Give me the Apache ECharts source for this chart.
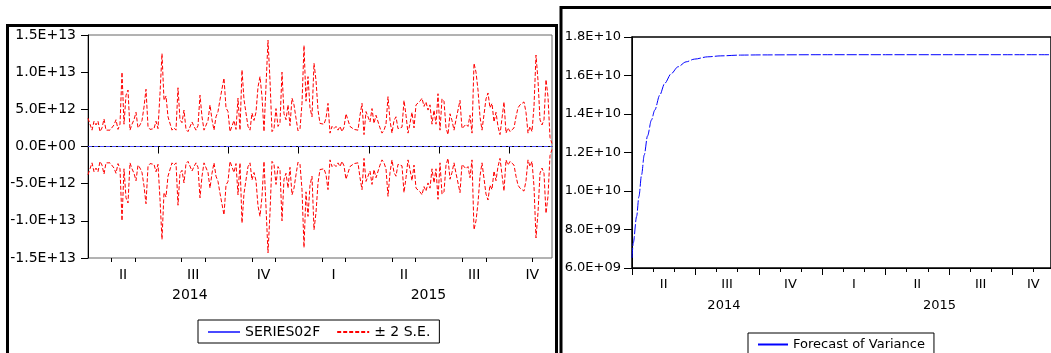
<!DOCTYPE html>
<html>
<head>
<meta charset="utf-8">
<script src="https://cdn.jsdelivr.net/npm/echarts@6.0.0/dist/echarts.min.js"></script>
<style>
  html, body { margin: 0; padding: 0; background: #fff; }
  #chart { width: 1051px; height: 353px; }
</style>
</head>
<body>
<div id="chart"></div>
<script>
// x is measured in quarters from 2014 Q2 (0 = start of April 2014)
const tEnd = 6.61;
const quarterTicks = [0, 1, 2, 3, 4, 5, 6];
const monthTicks = [0.333, 0.667, 1.333, 1.667, 2.333, 2.667, 3.333, 3.667, 4.333, 4.667, 5.333, 5.667, 6.333];
const quarterLabelPos = [0.5, 1.5, 2.5, 3.5, 4.5, 5.5, 6.33];
const quarterLabels = ["II", "III", "IV", "I", "II", "III", "IV"];
const yearLabelPos = [1.45, 4.85];
const yearLabels = ["2014", "2015"];

// left panel: forecast and +/- 2 S.E. bands, values in units of 1E+12
const forecastT = [0, 6.61];
const forecastV = [0, 0];
const upperBand = [
  3.8,3.0,2.2,3.4,2.9,3.4,2.0,2.5,3.7,2.2,2.0,2.2,2.2,2.9,3.6,2.3,3.0,10.0,3.0,6.9,7.6,2.2,3.0,3.6,4.6,2.5,2.9,3.5,5.3,7.7,2.7,2.3,2.2,2.4,3.4,2.4,7.1,12.5,6.2,
  6.8,4.0,4.2,2.2,2.5,2.2,7.9,3.6,3.2,4.9,2.3,2.0,2.0,3.3,2.7,2.2,2.8,6.9,4.0,2.2,2.2,3.5,5.6,3.6,2.2,4.0,4.7,6.3,6.2,9.2,5.2,4.7,2.0,2.0,3.5,2.3,6.5,2.2,10.3,
  6.3,6.5,2.7,2.2,4.5,3.5,4.6,8.0,9.4,6.7,2.0,2.2,14.3,8.9,2.0,2.4,5.1,2.7,3.2,10.0,4.4,3.6,5.6,2.8,6.5,5.6,3.8,2.1,2.4,5.8,13.6,6.1,9.4,5.2,4.0,11.2,8.9,4.9,3.1,
  3.3,3.0,3.8,5.8,1.8,2.7,2.4,2.7,2.2,2.7,2.0,2.6,4.4,4.2,2.7,2.7,2.3,2.4,2.2,4.2,5.8,1.6,4.7,4.6,3.3,5.1,3.1,4.2,4.4,2.5,1.8,2.2,3.0,6.7,3.5,1.8,3.5,4.0,2.4,
  2.4,2.6,6.2,4.2,1.8,3.1,4.6,2.5,5.6,5.4,6.1,6.5,5.4,6.0,4.9,5.6,3.0,4.9,3.0,7.1,2.2,6.4,6.1,2.5,1.6,4.4,3.5,2.2,3.6,3.8,6.2,2.4,2.6,3.0,2.7,4.2,1.8,11.2,10.0,
  7.6,4.0,2.2,2.2,6.4,7.2,5.2,5.8,3.3,4.6,2.7,1.6,1.4,6.0,1.8,2.5,2.0,2.2,2.5,4.0,5.2,5.6,5.8,6.0,4.6,1.8,2.7,2.0,5.4,12.3,8.9,3.6,2.9,3.6,9.0,6.7,1.2,0.4
];
const lowerBand = [
  -3.8,-3.0,-2.2,-3.4,-2.9,-3.4,-2.0,-2.5,-3.7,-2.2,-2.0,-2.2,-2.2,-2.9,-3.6,-2.3,-3.0,-10.0,-3.0,-6.9,-7.6,-2.2,-3.0,-3.6,-4.6,-2.5,-2.9,-3.5,-5.3,-7.7,-2.7,-2.3,-2.2,-2.4,-3.4,-2.4,-7.1,-12.5,-6.2,
  -6.8,-4.0,-4.2,-2.2,-2.5,-2.2,-7.9,-3.6,-3.2,-4.9,-2.3,-2.0,-2.0,-3.3,-2.7,-2.2,-2.8,-6.9,-4.0,-2.2,-2.2,-3.5,-5.6,-3.6,-2.2,-4.0,-4.7,-6.3,-6.2,-9.2,-5.2,-4.7,-2.0,-2.0,-3.5,-2.3,-6.5,-2.2,-10.3,
  -6.3,-6.5,-2.7,-2.2,-4.5,-3.5,-4.6,-8.0,-9.4,-6.7,-2.0,-2.2,-14.3,-8.9,-2.0,-2.4,-5.1,-2.7,-3.2,-10.0,-4.4,-3.6,-5.6,-2.8,-6.5,-5.6,-3.8,-2.1,-2.4,-5.8,-13.6,-6.1,-9.4,-5.2,-4.0,-11.2,-8.9,-4.9,-3.1,
  -3.3,-3.0,-3.8,-5.8,-1.8,-2.7,-2.4,-2.7,-2.2,-2.7,-2.0,-2.6,-4.4,-4.2,-2.7,-2.7,-2.3,-2.4,-2.2,-4.2,-5.8,-1.6,-4.7,-4.6,-3.3,-5.1,-3.1,-4.2,-4.4,-2.5,-1.8,-2.2,-3.0,-6.7,-3.5,-1.8,-3.5,-4.0,-2.4,
  -2.4,-2.6,-6.2,-4.2,-1.8,-3.1,-4.6,-2.5,-5.6,-5.4,-6.1,-6.5,-5.4,-6.0,-4.9,-5.6,-3.0,-4.9,-3.0,-7.1,-2.2,-6.4,-6.1,-2.5,-1.6,-4.4,-3.5,-2.2,-3.6,-3.8,-6.2,-2.4,-2.6,-3.0,-2.7,-4.2,-1.8,-11.2,-10.0,
  -7.6,-4.0,-2.2,-2.2,-6.4,-7.2,-5.2,-5.8,-3.3,-4.6,-2.7,-1.6,-1.4,-6.0,-1.8,-2.5,-2.0,-2.2,-2.5,-4.0,-5.2,-5.6,-5.8,-6.0,-4.6,-1.8,-2.7,-2.0,-5.4,-12.3,-8.9,-3.6,-2.9,-3.6,-9.0,-6.7,-1.2,-0.4
];

// right panel: forecast of variance
const varT = [0, 0.02, 0.073, 0.109, 0.151, 0.193, 0.245, 0.307, 0.359, 0.438, 0.516, 0.62, 0.724, 0.854, 0.984, 1.193, 1.401, 1.714, 2.026, 3.0, 4.0, 5.0, 6.0, 6.61];
const varV = [6.52e9, 7.3e9, 8.68e9, 9.71e9, 10.84e9, 11.87e9, 12.86e9, 13.69e9, 14.2e9, 14.98e9, 15.59e9, 16.1e9, 16.45e9, 16.71e9, 16.85e9, 16.97e9, 17.02e9, 17.06e9, 17.07e9, 17.08e9, 17.08e9, 17.08e9, 17.08e9, 17.08e9];

const FONT = "DejaVu Sans";

function sci(v) {
  if (Math.abs(v) < 1e-6) return "0.0E+00";
  const [m, e] = v.toExponential(1).split("e");
  return m + "E" + e[0] + e.slice(1).padStart(2, "0");
}

function pick(positions, labels) {
  return (v) => {
    const i = positions.findIndex((p) => Math.abs(p - v) < 1e-6);
    return i < 0 ? "" : labels[i];
  };
}

function timeAxes(gridIndex, fontSize, labelMargin, yearMargin) {
  const base = { type: "value", gridIndex, min: 0, max: tEnd, position: "bottom", splitLine: { show: false } };
  const text = { color: "#000", fontSize, fontFamily: FONT };
  return [
    {
      ...base,
      axisLine: { lineStyle: { color: "#000", width: 1 } },
      axisTick: { customValues: quarterTicks, length: 7, lineStyle: { color: "#000" } },
      axisLabel: { ...text, customValues: quarterLabelPos, margin: labelMargin, formatter: pick(quarterLabelPos, quarterLabels) }
    },
    {
      ...base,
      axisLine: { show: false },
      axisTick: { customValues: monthTicks, length: 4, lineStyle: { color: "#000" } },
      axisLabel: { show: false }
    },
    {
      ...base,
      axisLine: { show: false },
      axisTick: { show: false },
      axisLabel: { ...text, customValues: yearLabelPos, margin: yearMargin, formatter: pick(yearLabelPos, yearLabels) }
    }
  ];
}

const step = tEnd / (upperBand.length - 1);
const indexed = (arr) => arr.map((v, i) => [i * step, v]);
const paired = (ts, vs) => ts.map((t, i) => [t, vs[i]]);

const chart = echarts.init(document.getElementById("chart"));
chart.setOption({
  animation: false,
  backgroundColor: "#fff",
  grid: [
    { left: 88, top: 35, width: 464, height: 223, show: true, borderColor: "#666", borderWidth: 1, containLabel: false },
    { left: 632, top: 37, width: 423, height: 231, show: true, borderColor: "#000", borderWidth: 1.5, containLabel: false }
  ],
  xAxis: [...timeAxes(0, 14, 10, 30), ...timeAxes(1, 13, 10, 31)],
  yAxis: [
    {
      type: "value", gridIndex: 0, min: -15, max: 15, interval: 5,
      axisLine: { show: true, lineStyle: { color: "#000" } },
      axisTick: { show: true, length: 7, lineStyle: { color: "#000" } },
      axisLabel: { color: "#000", fontSize: 14, fontFamily: FONT, margin: 12, formatter: (v) => sci(v * 1e12) },
      splitLine: { show: false }
    },
    {
      type: "value", gridIndex: 1, min: 6e9, max: 1.8e10, interval: 2e9,
      axisLine: { show: true, lineStyle: { color: "#000" } },
      axisTick: { show: true, length: 8, lineStyle: { color: "#000" } },
      axisLabel: { color: "#000", fontSize: 13, fontFamily: FONT, margin: 11, formatter: (v) => sci(v) },
      splitLine: { show: false }
    }
  ],
  legend: [
    {
      id: "legendLeft", left: 198, top: 320, orient: "horizontal",
      padding: [5, 9, 4, 9], itemGap: 16, itemWidth: 32, itemHeight: 12,
      borderColor: "#000", borderWidth: 1, backgroundColor: "#fff",
      itemStyle: { opacity: 0 },
      textStyle: { color: "#000", fontSize: 14, fontFamily: FONT },
      data: [
        { name: "SERIES02F", lineStyle: { type: "solid" } },
        { name: "± 2 S.E." }
      ]
    },
    {
      id: "legendRight", left: 748, top: 333, orient: "horizontal",
      padding: [5, 9, 4, 9], itemWidth: 30, itemHeight: 12,
      borderColor: "#000", borderWidth: 1, backgroundColor: "#fff",
      itemStyle: { opacity: 0 },
      textStyle: { color: "#000", fontSize: 13, fontFamily: FONT },
      data: [{ name: "Forecast of Variance", lineStyle: { type: "solid" } }]
    }
  ],
  graphic: [
    { type: "rect", shape: { x: 7.5, y: 25.5, width: 549, height: 340 }, style: { fill: null, stroke: "#000", lineWidth: 3 }, silent: true },
    { type: "rect", shape: { x: 561, y: 7.5, width: 500, height: 360 }, style: { fill: null, stroke: "#000", lineWidth: 3 }, silent: true }
  ],
  series: [
    {
      name: "SERIES02F", type: "line", xAxisIndex: 0, yAxisIndex: 0,
      data: paired(forecastT, forecastV), symbol: "none",
      lineStyle: { color: "#4a4aff", width: 1, type: [4, 2] }, itemStyle: { color: "#4a4aff" }, z: 3
    },
    {
      name: "± 2 S.E.", type: "line", xAxisIndex: 0, yAxisIndex: 0,
      data: indexed(upperBand), symbol: "none",
      lineStyle: { color: "#ff0000", width: 1, type: [4, 2] }, itemStyle: { color: "#ff0000" }
    },
    {
      name: "± 2 S.E.", type: "line", xAxisIndex: 0, yAxisIndex: 0,
      data: indexed(lowerBand), symbol: "none",
      lineStyle: { color: "#ff0000", width: 1, type: [4, 2] }, itemStyle: { color: "#ff0000" }
    },
    {
      name: "Forecast of Variance", type: "line", xAxisIndex: 3, yAxisIndex: 1,
      data: paired(varT, varV), symbol: "none", smooth: 0.3, smoothMonotone: "x",
      lineStyle: { color: "#0000ff", width: 1, type: [10, 2] }, itemStyle: { color: "#0000ff" }
    }
  ]
});
</script>
</body>
</html>
